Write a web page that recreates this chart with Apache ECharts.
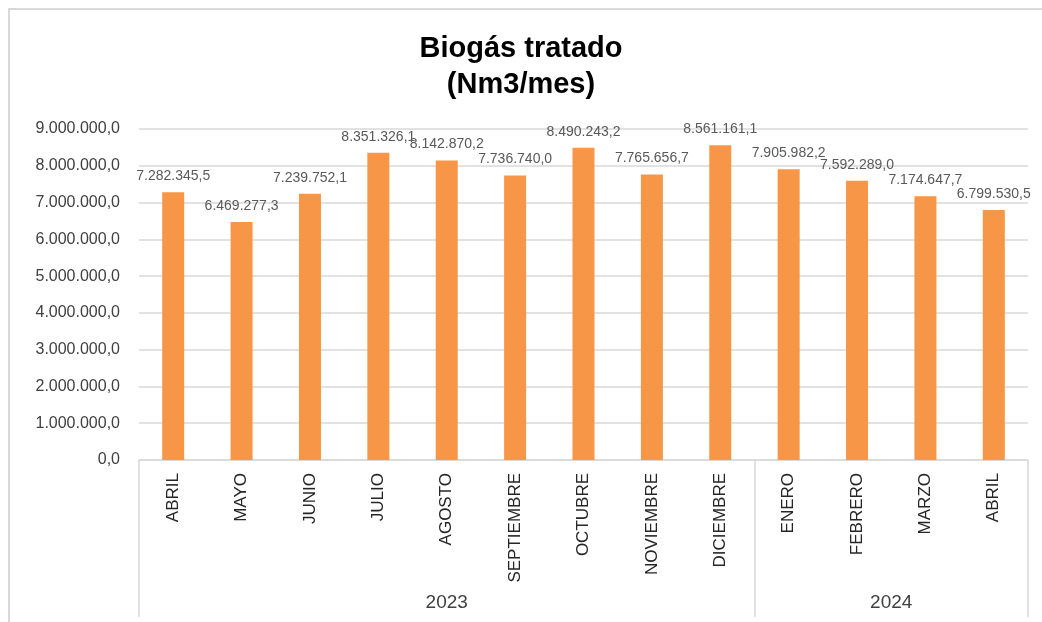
<!DOCTYPE html>
<html>
<head>
<meta charset="utf-8">
<style>
    html, body { margin: 0; padding: 0; background: #fff; }
    .frame {
        position: absolute; left: 8px; top: 8px; right: 0; bottom: 0;
        border-top: 2px solid #d9d9d9; border-left: 2px solid #d9d9d9;
    }
    #main { position: absolute; left: 0; top: 0; width: 1042px; height: 622px; }
</style>
<script src="https://cdn.jsdelivr.net/npm/echarts@6/dist/echarts.min.js"></script>
</head>
<body>
<div class="frame"></div>
<div id="main"></div>
<script>
// meses y valores (Nm3/mes)
let months = ['ABRIL', 'MAYO', 'JUNIO', 'JULIO', 'AGOSTO', 'SEPTIEMBRE', 'OCTUBRE',
    'NOVIEMBRE', 'DICIEMBRE', 'ENERO', 'FEBRERO', 'MARZO', 'ABRIL'];
let values = [7282345.5, 6469277.3, 7239752.1, 8351326.1, 8142870.2, 7736740.0, 8490243.2,
    7765656.7, 8561161.1, 7905982.2, 7592289.0, 7174647.7, 6799530.5];
let years = ['2023', '2024'];
let yearCounts = [9, 4];
let yTicks = [0, 1000000, 2000000, 3000000, 4000000, 5000000, 6000000, 7000000, 8000000, 9000000];

// formato 9.000.000,0
function fmt(v) {
    let p = Number(v).toFixed(1).split('.');
    return p[0].replace(/\B(?=(\d{3})+(?!\d))/g, '.') + ',' + p[1];
}

// limites y centros de cada año
let bounds = [0];
let centers = [];
yearCounts.forEach(function (c) {
    let start = bounds[bounds.length - 1];
    bounds.push(start + c);
    centers.push(start + c / 2);
});
let total = bounds[bounds.length - 1];

let font = 'Liberation Sans';
let charts = echarts.init(document.querySelector('#main'));

let option = {
    animation: false,
    title: {
        text: 'Biogás tratado\n(Nm3/mes)',
        left: 'center',
        top: 26,
        textStyle: {
            fontFamily: font,
            fontSize: 29,
            fontWeight: 'bold',
            lineHeight: 36,
            color: '#000'
        }
    },
    grid: {
        left: 139,
        right: 14,
        top: 129,
        bottom: 162,
        containLabel: false
    },
    xAxis: [{
        type: 'category',
        data: months,
        axisLine: { lineStyle: { color: '#d9d9d9', width: 1.5 } },
        axisTick: { show: false },
        axisLabel: {
            rotate: 90,
            interval: 0,
            margin: 13,
            fontFamily: font,
            fontSize: 17,
            color: '#262626'
        }
    }, {
        type: 'value',
        min: 0,
        max: total,
        position: 'bottom',
        axisLine: { show: false },
        splitLine: { show: false },
        axisTick: {
            show: true,
            customValues: bounds,
            length: 157,
            lineStyle: { color: '#d9d9d9', width: 1.5 }
        },
        axisLabel: {
            customValues: centers,
            margin: 133,
            fontFamily: font,
            fontSize: 19,
            color: '#404040',
            formatter: function (v) {
                let i = centers.indexOf(v);
                return i >= 0 ? years[i] : '';
            }
        }
    }],
    yAxis: {
        type: 'value',
        min: yTicks[0],
        max: yTicks[yTicks.length - 1],
        interval: yTicks[1] - yTicks[0],
        axisLine: { show: false },
        axisTick: { show: false },
        splitLine: { lineStyle: { color: '#d9d9d9', width: 1.5 } },
        axisLabel: {
            margin: 19,
            fontFamily: font,
            fontSize: 16,
            color: '#404040',
            formatter: fmt
        }
    },
    series: [{
        type: 'bar',
        data: values,
        barWidth: 22,
        itemStyle: { color: '#F79646' },
        label: {
            show: true,
            position: 'top',
            distance: 9,
            fontFamily: font,
            fontSize: 14,
            color: '#595959',
            formatter: function (p) { return fmt(p.value); }
        }
    }]
};
charts.setOption(option);
</script>
</body>
</html>
